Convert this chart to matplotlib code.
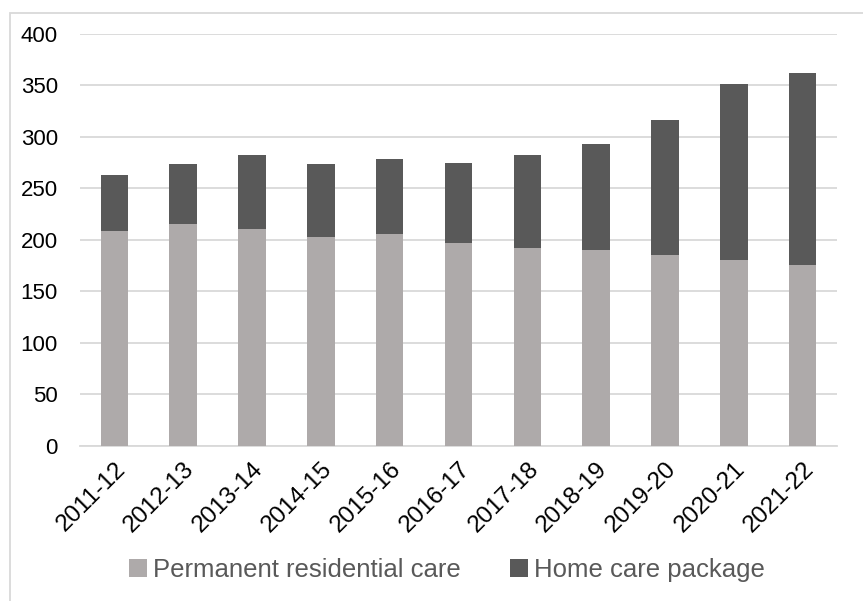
import matplotlib.pyplot as plt
from matplotlib.patches import Rectangle
import numpy as np

plt.rcParams['font.family'] = ['Liberation Sans', 'DejaVu Sans']

years = ['2011-12', '2012-13', '2013-14', '2014-15', '2015-16', '2016-17',
         '2017-18', '2018-19', '2019-20', '2020-21', '2021-22']
residential = [208, 215, 210, 203, 205.5, 196.5, 192, 190, 185, 180, 175.5]
home_care = [55, 58, 72, 70.5, 73, 77.5, 90, 103, 131, 171, 186.5]

res_color = '#AEAAAA'
home_color = '#595959'
grid_color = '#D9D9D9'

fig = plt.figure(figsize=(8.63, 6.01), dpi=100)
ax = fig.add_axes((80 / 863, 155.3 / 601, 757 / 863, 412.2 / 601))

x = np.arange(len(years))
ax.bar(x, residential, width=0.4, color=res_color, label='Permanent residential care', zorder=3)
ax.bar(x, home_care, width=0.4, bottom=residential, color=home_color,
       label='Home care package', zorder=3)

ax.set_xlim(-0.5, len(years) - 0.5)
ax.set_ylim(0, 400)
ax.set_yticks(range(0, 401, 50))
ax.yaxis.grid(True, color=grid_color, linewidth=1.3, zorder=0)
for s in ['top', 'right', 'left']:
    ax.spines[s].set_visible(False)
ax.spines['bottom'].set_color(grid_color)
ax.spines['bottom'].set_linewidth(1.3)
ax.tick_params(axis='both', length=0, colors='black')
ax.tick_params(axis='y', pad=16, labelsize=16)
ax.tick_params(axis='x', pad=9)
ax.set_xticks(x)
ax.set_xticklabels(years, rotation=45, ha='right', rotation_mode='anchor', fontsize=17.5)

# light frame around the whole chart area
fig.patches.append(Rectangle((10 / 863, -0.1), 1.0, (601 - 13) / 601 + 0.1,
                             transform=fig.transFigure, fill=False,
                             edgecolor=grid_color, linewidth=1.3))

leg = fig.legend(loc='center', bbox_to_anchor=(0.518, 0.052), ncol=2, frameon=False,
                 fontsize=18.5, handlelength=0.7, handleheight=0.7, handletextpad=0.25,
                 columnspacing=1.9)
for t in leg.get_texts():
    t.set_color(home_color)

fig.savefig('out.png', dpi=100)
